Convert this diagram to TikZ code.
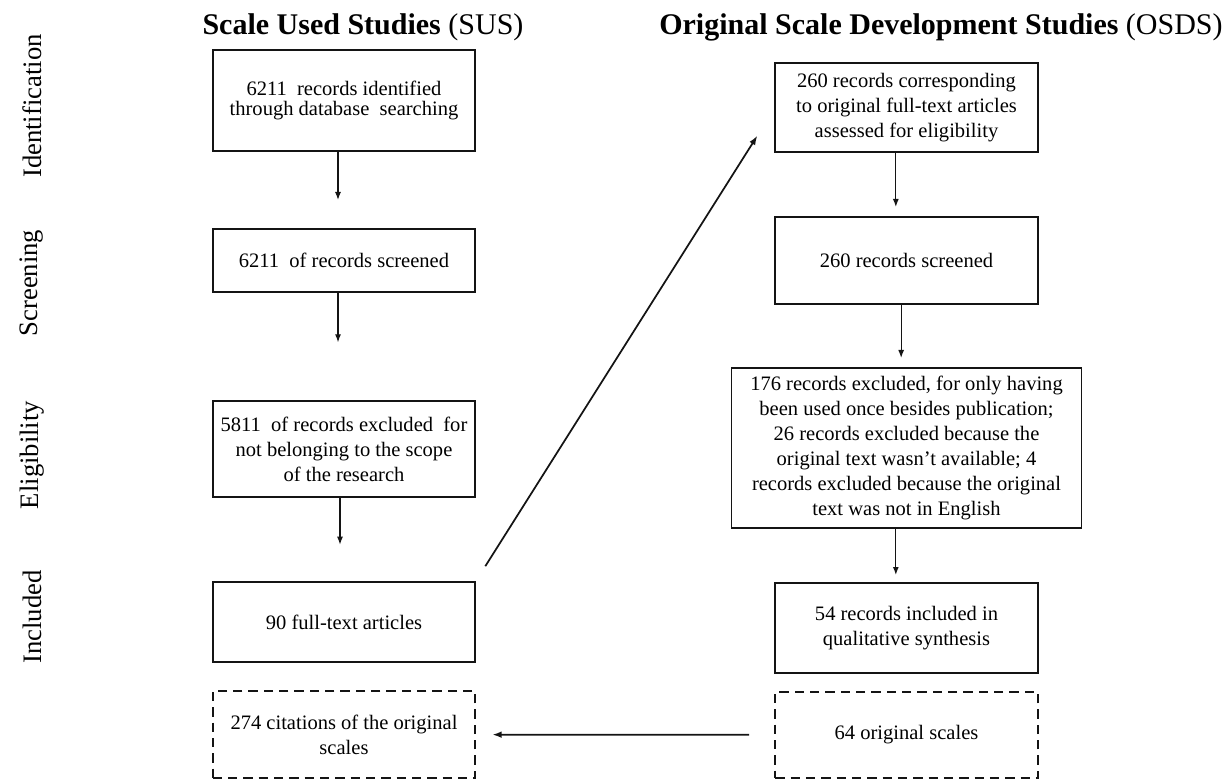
\documentclass[tikz,border=0pt]{standalone}
\usepackage{fontspec}
\setmainfont{Liberation Serif}
\usepackage{xcolor}
\definecolor{ink}{RGB}{20,20,20}
\usepackage{tikz}
\usetikzlibrary{arrows.meta,positioning}

\begin{document}
\begin{tikzpicture}[
  x=0.75pt,y=-0.75pt,
  sbox/.style={rectangle,draw=ink,line width=1.4pt,outer sep=0pt,inner sep=2pt,minimum width=197pt,align=center,font=\fontsize{15.4}{18.75}\selectfont},
  dbox/.style={sbox,dash pattern=on 7pt off 4.5pt},
  phase/.style={rotate=90,font=\fontsize{20}{24}\selectfont},
  coltitle/.style={font=\fontsize{22.5}{27}\selectfont},
  arrow/.style={-{Latex[length=6pt,width=4.5pt]},line width=0.9pt,ink},
  link/.style={-{Latex[length=7pt,width=5pt]},line width=1.3pt,ink}
]
  \useasboundingbox (0,0) rectangle (1232,780);

  % === Column titles ===
  \node[coltitle] (tsus) at (363,27) {\textbf{Scale Used Studies} (SUS)};
  \node[coltitle] (tosds) at (941,27) {\textbf{Original Scale Development Studies} (OSDS)};

  % === Stages ===
  \node[phase] (pid) at (32,106) {Identification};
  \node[phase] (psc) at (32,283) {Screening};
  \node[phase] (pel) at (32,455) {Eligibility};
  \node[phase] (pin) at (32,617) {Included};

  % === SUS column ===
  \node[sbox,minimum height=75.75pt,font=\fontsize{15.4}{15}\selectfont] (l1) at (344,100.5) {6211\ \ records identified\\through database\ \ searching};
  \node[sbox,minimum height=47.25pt,below=58.5pt of l1] (l2) {6211\ \ of records screened};
  \node[sbox,minimum height=72pt,below=81.75pt of l2] (l3) {5811\ \ of records excluded\ \ for\\not belonging to the scope\\of the research};
  \node[sbox,minimum height=60pt,below=63.75pt of l3] (l4) {90 full-text articles};
  \node[dbox,minimum height=65.25pt,below=21.75pt of l4] (l5) {274 citations of the original\\scales};

  % === OSDS column ===
  \node[sbox,minimum height=66.75pt] (r1) at (906.5,107.5) {260 records corresponding\\to original full-text articles\\assessed for eligibility};
  \node[sbox,minimum height=65.25pt,below=48.75pt of r1] (r2) {260 records screened};
  \node[sbox,minimum width=262.5pt,minimum height=120pt,below=48pt of r2] (r3) {176 records excluded, for only having\\been used once besides publication;\\26 records excluded because the\\original text wasn't available; 4\\records excluded because the original\\text was not in English};
  \node[sbox,minimum height=67.5pt,below=41.25pt of r3] (r4) {54 records included in\\qualitative synthesis};
  \node[dbox,minimum height=64.5pt,below=14.25pt of r4] (r5) {64 original scales};

  % Flow arrows
  \draw[arrow,shorten >=21.75pt] ([xshift=-4.5pt]l1.south) -- ([xshift=-4.5pt]l2.north);
  \draw[arrow,shorten >=44pt] ([xshift=-4.5pt]l2.south) -- ([xshift=-4.5pt]l3.north);
  \draw[arrow,shorten >=28pt] ([xshift=-3pt]l3.south) -- ([xshift=-3pt]l4.north);
  \draw[arrow,shorten >=7.5pt] ([xshift=-8pt]r1.south) -- ([xshift=-8pt]r2.north);
  \draw[arrow,shorten >=7.5pt] ([xshift=-4pt]r2.south) -- ([xshift=-4pt]r3.north);
  \draw[arrow,shorten >=6pt] ([xshift=-8pt]r3.south) -- ([xshift=-8pt]r4.north);
  \draw[link,shorten <=14pt,shorten >=25pt] (l4.north east) -- (r1.west);
  \draw[link,shorten <=19.5pt,shorten >=12.75pt] (r5) -- (l5);
\end{tikzpicture}
\end{document}
